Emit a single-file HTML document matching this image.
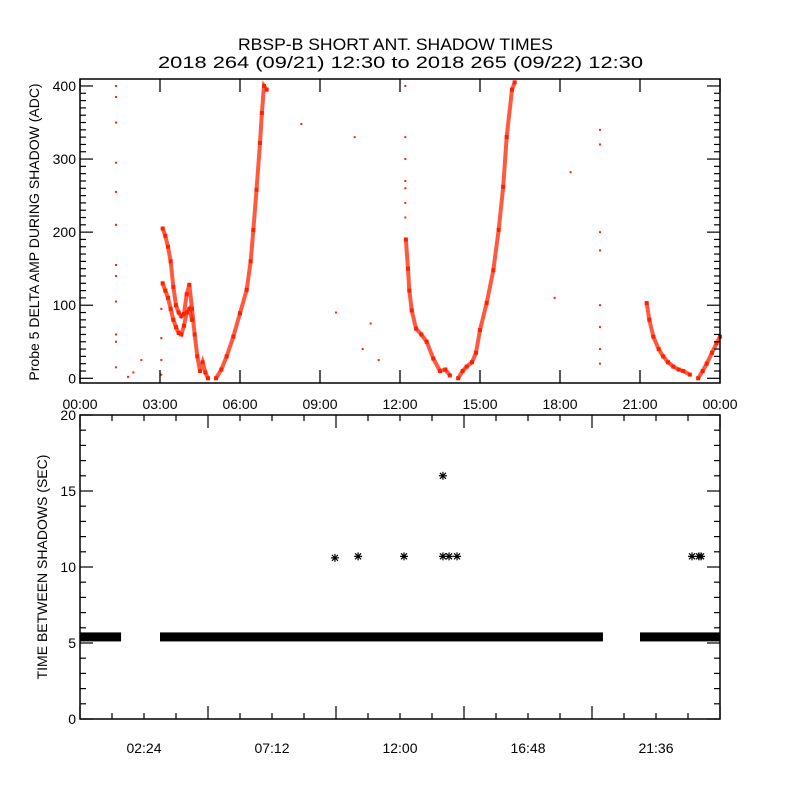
<!DOCTYPE html>
<html><head><meta charset="utf-8">
<style>
html,body{margin:0;padding:0;background:#fff;}
svg{display:block;font-family:"Liberation Sans",sans-serif;}
</style></head>
<body>
<svg id="chart" width="800" height="800" viewBox="0 0 800 800" xmlns="http://www.w3.org/2000/svg">
<rect x="0" y="0" width="800" height="800" fill="#fff"/>
<text x="238" y="50" font-size="17" textLength="315" lengthAdjust="spacingAndGlyphs">RBSP-B SHORT ANT. SHADOW TIMES</text>
<text x="158" y="68" font-size="17" textLength="485" lengthAdjust="spacingAndGlyphs">2018 264 (09/21) 12:30 to 2018 265 (09/22) 12:30</text>
<g id="topPanel"></g>
<g id="botPanel"></g>
</svg>
<script>
// ---- Top panel data (hours, ADC) ----
const arc1Upper = [[3.1,205],[3.2,195],[3.3,180],[3.4,160],[3.5,125],[3.6,100],[3.7,90],[3.8,85],[3.9,88],[4.0,115],[4.1,128],[4.2,95],[4.3,60],[4.4,30],[4.5,10],[4.6,22],[4.7,8],[4.8,0]];
const arc1Lower = [[3.1,130],[3.2,120],[3.3,110],[3.4,95],[3.5,80],[3.6,70],[3.7,62],[3.8,60],[3.9,72],[4.0,90],[4.1,95],[4.2,80]];
const arc1Rise = [[5.1,0],[5.3,12],[5.5,30],[5.75,57],[6.0,89],[6.25,121],[6.4,160],[6.5,203],[6.62,258],[6.75,322],[6.82,363],[6.9,400],[7.0,395]];
const arc2Fall = [[12.22,190],[12.3,150],[12.35,120],[12.44,93],[12.6,68],[12.8,60],[13.0,50],[13.25,27],[13.5,10],[13.7,12],[13.87,4]];
const arc2Rise = [[14.18,0],[14.35,10],[14.5,16],[14.7,22],[14.85,35],[15.0,66],[15.25,103],[15.5,148],[15.7,203],[15.87,262],[16.0,330],[16.2,395],[16.3,405]];
const arc3Fall = [[21.25,103],[21.35,80],[21.5,57],[21.7,40],[21.87,30],[22.05,22],[22.25,16],[22.45,12],[22.62,10],[22.87,5]];
const arc3Rise = [[23.18,0],[23.35,10],[23.5,20],[23.7,35],[23.87,48],[24.0,57]];
const sparseH = [1.35,1.35,1.35,1.35,1.35,1.35,1.35,1.35,1.35,1.35,1.35,1.35,3.05,3.05,3.05,3.05,8.3,10.3,9.6,10.9,10.6,11.2,12.2,12.2,12.2,12.2,12.2,12.2,12.2,19.5,19.5,19.5,19.5,19.5,19.5,19.5,19.5,18.4,17.8,2.3,1.8,2.0];
const sparseV = [400,385,350,295,255,210,155,140,105,60,50,15,95,55,25,5,348,330,90,75,40,25,400,330,300,270,260,240,220,340,320,200,175,100,70,40,20,282,110,25,2,8];
const topXTicks = ["00:00","03:00","06:00","09:00","12:00","15:00","18:00","21:00","00:00"];
const topYTicks = [0,100,200,300,400];
// ---- Bottom panel data (hours, seconds) ----
const bandStart = [0.0,3.0,21.0];
const bandEnd = [1.54,19.61,24.0];
const bandValue = [5.4,5.4,5.4];
const outH = [9.56,10.43,12.15,13.61,13.61,13.84,14.14,22.95,23.21,23.29];
const outV = [10.6,10.7,10.7,16.0,10.7,10.7,10.7,10.7,10.7,10.7];
const botXTicks = ["02:24","07:12","12:00","16:48","21:36"];
const botYTicks = [0,5,10,15,20];

const NS="http://www.w3.org/2000/svg";
function mk(parent,tag,attrs){const e=document.createElementNS(NS,tag);for(const k in attrs)e.setAttribute(k,attrs[k]);parent.appendChild(e);return e;}

// top axes
const TL=80,TR=720,TT=79,TB=383;
const tx=h=>TL+h*(TR-TL)/24;
const ty=v=>378.3-v*0.7308;
const topG=document.getElementById('topPanel');
const RED="#ff2200";
function drawCurve(arr,name){
  const pl=mk(topG,'polyline',{points:arr.map(p=>tx(p[0])+','+ty(p[1])).join(' '),fill:'none',stroke:RED,'stroke-width':4,'stroke-opacity':0.75});
  
  
  arr.forEach(p=>{
    const r=mk(topG,'rect',{x:tx(p[0])-2,y:ty(p[1])-2,width:4,height:4,fill:RED});
    
    
  });
}
drawCurve(arc1Upper,'arc1-fall-upper');
drawCurve(arc1Lower,'arc1-fall-lower');
drawCurve(arc1Rise,'arc1-rise');
drawCurve(arc2Fall,'arc2-fall');
drawCurve(arc2Rise,'arc2-rise');
drawCurve(arc3Fall,'arc3-fall');
drawCurve(arc3Rise,'arc3-rise');
sparseH.forEach((h,i)=>{
  const r=mk(topG,'rect',{x:tx(h)-1,y:ty(sparseV[i])-1,width:2,height:2,fill:RED});
  
  
});
const tbox=mk(topG,'rect',{x:TL,y:TT,width:TR-TL,height:TB-TT,fill:'none',stroke:'#000','stroke-width':1.5});


topXTicks.forEach((l,i)=>{
  const x=tx(i*3);
  mk(topG,'line',{x1:x,y1:TB,x2:x,y2:TB-13,stroke:'#000','stroke-width':1.3});
  mk(topG,'line',{x1:x,y1:TT,x2:x,y2:TT+13,stroke:'#000','stroke-width':1.3});
  const t=mk(topG,'text',{x:x,y:409,'text-anchor':'middle','font-size':14});
  t.textContent=l;
  
  
});
for(let v=0;v<=400;v+=10){
  const y=ty(v);const len=v%100===0?13:6;
  mk(topG,'line',{x1:TL,y1:y,x2:TL+len,y2:y,stroke:'#000','stroke-width':1.2});
  mk(topG,'line',{x1:TR,y1:y,x2:TR-len,y2:y,stroke:'#000','stroke-width':1.2});
}
topYTicks.forEach(v=>{
  const t=mk(topG,'text',{x:76,y:ty(v)+5,'text-anchor':'end','font-size':14});
  t.textContent=v;
  
  
});
const tyl=mk(topG,'text',{x:0,y:0,'text-anchor':'middle','font-size':14,transform:'translate(39,232) rotate(-90)'});
tyl.textContent='Probe 5 DELTA AMP DURING SHADOW (ADC)';



// bottom axes
const BL=80,BR=720,BT=415,BB=719;
const bx=h=>BL+h*(BR-BL)/24;
const by=v=>BB-v*(BB-BT)/20;
const botG=document.getElementById('botPanel');
bandStart.forEach((s,i)=>{
  const r=mk(botG,'rect',{x:bx(s),y:by(bandValue[i])-4.5,width:bx(bandEnd[i])-bx(s),height:9,fill:'#000'});
  
  
});
outH.forEach((h,i)=>{
  const x=bx(h),y=by(outV[i]);
  const g=mk(botG,'g',{stroke:'#000','stroke-width':1.2});
  
  
  mk(g,'line',{x1:x-4,y1:y,x2:x+4,y2:y});
  mk(g,'line',{x1:x,y1:y-4,x2:x,y2:y+4});
  mk(g,'line',{x1:x-3,y1:y-3,x2:x+3,y2:y+3});
  mk(g,'line',{x1:x-3,y1:y+3,x2:x+3,y2:y-3});
});
const bbox=mk(botG,'rect',{x:BL,y:BT,width:BR-BL,height:BB-BT,fill:'none',stroke:'#000','stroke-width':1.5});


for(let k=0;k<=20;k++){
  const x=bx(k*1.2);const len=k%4===0?13:6;
  mk(botG,'line',{x1:x,y1:BB,x2:x,y2:BB-len,stroke:'#000','stroke-width':1.2});
  mk(botG,'line',{x1:x,y1:BT,x2:x,y2:BT+len,stroke:'#000','stroke-width':1.2});
}
botXTicks.forEach((l,i)=>{
  const t=mk(botG,'text',{x:bx(2.4+i*4.8),y:753,'text-anchor':'middle','font-size':14});
  t.textContent=l;
  
  
});
for(let v=0;v<=20;v++){
  const y=by(v);const len=v%5===0?13:6;
  mk(botG,'line',{x1:BL,y1:y,x2:BL+len,y2:y,stroke:'#000','stroke-width':1.2});
  mk(botG,'line',{x1:BR,y1:y,x2:BR-len,y2:y,stroke:'#000','stroke-width':1.2});
}
botYTicks.forEach(v=>{
  const t=mk(botG,'text',{x:76,y:by(v)+5,'text-anchor':'end','font-size':14});
  t.textContent=v;
  
  
});
const byl=mk(botG,'text',{x:0,y:0,'text-anchor':'middle','font-size':14,transform:'translate(47,567) rotate(-90)'});
byl.textContent='TIME BETWEEN SHADOWS (SEC)';


</script>
</body></html>
